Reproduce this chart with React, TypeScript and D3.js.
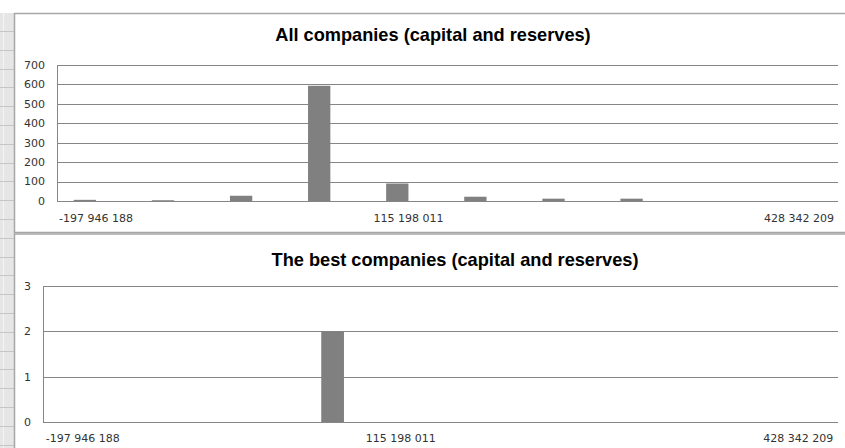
import React from "react";
import * as d3 from "d3";

const categories = ["c0", "c1", "c2", "c3", "c4", "c5", "c6", "c7", "c8", "c9"];
const allCompanies = [6, 4, 27, 593, 90, 22, 12, 12, 0, 0];
const bestCompanies = [0, 0, 0, 2, 0, 0, 0, 0, 0, 0];
const xTickLabels = [
  { index: 0, label: "-197 946 188" },
  { index: 4, label: "115 198 011" },
  { index: 9, label: "428 342 209" },
];
const seriesNames = ["all", "best"];
const topTicks = [0, 100, 200, 300, 400, 500, 600, 700];
const bottomTicks = [0, 1, 2, 3];

const W = 845;
const H = 448;
const LABEL_FONT = "'DejaVu Sans', sans-serif";
const TITLE_FONT = "'Liberation Sans', Arial, sans-serif";
const GRID = "#868686";
const BAR = "#808080";
const TXT = "#333333";

type PanelProps = {
  title: string;
  titleX: number;
  titleY: number;
  values: number[];
  series: string;
  ticks: number[];
  yMax: number;
  left: number;
  right: number;
  top: number;
  bottom: number;
  yLabelX: number;
  xLabelY: number;
};

function Panel(p: PanelProps) {
  const x = d3.scaleBand<string>().domain(categories).range([p.left, p.right]).paddingInner(0).paddingOuter(0);
  const x1 = d3.scaleBand<string>().domain(seriesNames).range([0, x.bandwidth()]).paddingInner(0).paddingOuter(0.75);
  const y = d3.scaleLinear().domain([0, p.yMax]).range([p.bottom, p.top]);
  return (
    <g>
      <text x={p.titleX} y={p.titleY} textAnchor="middle" fontFamily={TITLE_FONT} fontWeight="bold" fontSize={18.2} fill="#000">
        {p.title}
      </text>
      {p.ticks.map((t) => (
        <g key={t}>
          <line x1={p.left} x2={p.right} y1={Math.round(y(t)) + 0.5} y2={Math.round(y(t)) + 0.5} stroke={GRID} strokeWidth={1} />
          <text x={p.yLabelX} y={y(t)} dy="0.35em" textAnchor="end" fontFamily={LABEL_FONT} fontSize={11} fill={TXT}>
            {t}
          </text>
        </g>
      ))}
      <line x1={p.left + 0.5} x2={p.left + 0.5} y1={p.top} y2={p.bottom} stroke={GRID} strokeWidth={1} />
      {p.values.map((v, i) =>
        v > 0 ? (
          <rect
            key={i}
            x={(x(categories[i]) as number) + (x1(p.series) as number)}
            width={x1.bandwidth()}
            y={y(v)}
            height={p.bottom - y(v)}
            fill={BAR}
          />
        ) : null
      )}
      {xTickLabels.map((t) => (
        <text
          key={t.index}
          x={(x(categories[t.index]) as number) + x.bandwidth() / 2}
          y={p.xLabelY}
          dy="0.35em"
          textAnchor="middle"
          fontFamily={LABEL_FONT}
          fontSize={11}
          fill={TXT}
        >
          {t.label}
        </text>
      ))}
    </g>
  );
}

export default function App() {
  const gutterLines = d3.range(31, H, 18.8);
  return (
    <svg width={W} height={H} style={{ position: "absolute", left: 0, top: 0, background: "#fff" }}>
      <rect x={0} y={0} width={W} height={H} fill="#fff" />
      <rect x={0} y={13} width={14} height={H - 13} fill="#e6e6e6" />
      <line x1={3.5} x2={3.5} y1={13} y2={H} stroke="#f4f4f4" strokeWidth={1} />
      {gutterLines.map((gy, i) => (
        <line key={i} x1={0} x2={14} y1={Math.round(gy) + 0.5} y2={Math.round(gy) + 0.5} stroke="#c6c6c6" strokeWidth={1} />
      ))}
      <rect x={14.5} y={13.5} width={W} height={219} fill="#fff" stroke="#a6a6a6" strokeWidth={1.5} />
      <rect x={14.5} y={234} width={W} height={H} fill="#fff" stroke="#a6a6a6" strokeWidth={1.5} />
      <Panel
        title="All companies (capital and reserves)"
        titleX={433}
        titleY={41}
        values={allCompanies}
        series="all"
        ticks={topTicks}
        yMax={700}
        left={57}
        right={838}
        top={65}
        bottom={201}
        yLabelX={45}
        xLabelY={218}
      />
      <Panel
        title="The best companies (capital and reserves)"
        titleX={455}
        titleY={266}
        values={bestCompanies}
        series="best"
        ticks={bottomTicks}
        yMax={3}
        left={43}
        right={838}
        top={286}
        bottom={422}
        yLabelX={31}
        xLabelY={438}
      />
    </svg>
  );
}
